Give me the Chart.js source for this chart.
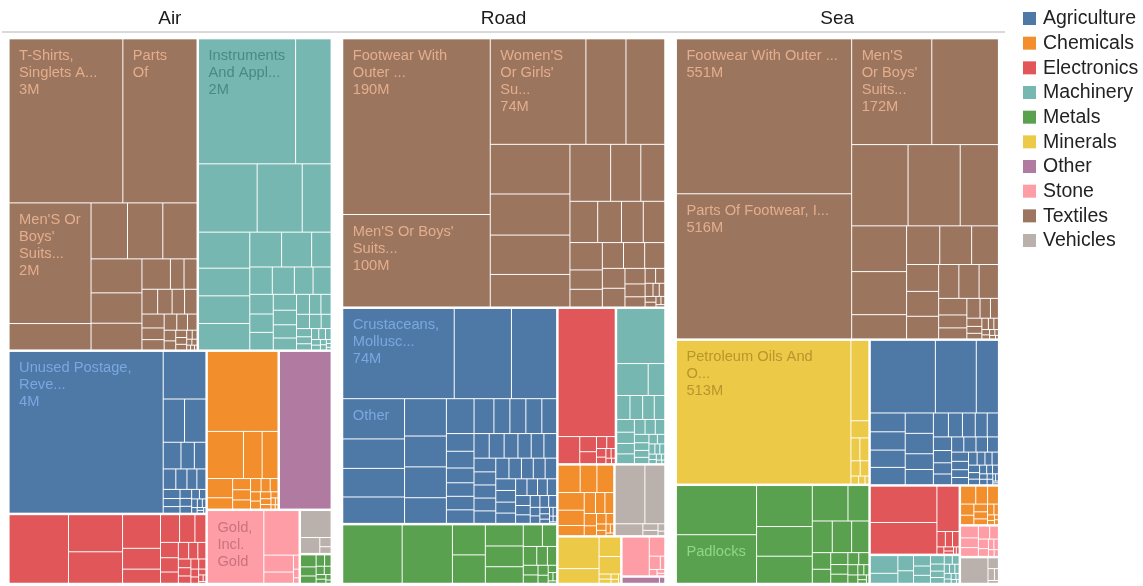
<!DOCTYPE html>
<html>
<head>
<meta charset="utf-8">
<title>Trade value by mode of transport</title>
<script src="https://cdn.jsdelivr.net/npm/chart.js@4.4.1/dist/chart.umd.min.js"></script>
<style>
  html, body { margin: 0; padding: 0; background: #fff; }
  #wrap { width: 1143px; height: 586px; }
</style>
</head>
<body>
<div id="wrap"><canvas id="treemapChart" width="1143" height="586"></canvas></div>
<script>
// treemap of traded value per product, grouped by sector, one panel per transport mode
// all values are in millions

const modes = ['Air', 'Road', 'Sea'];
const categories = ['Agriculture', 'Chemicals', 'Electronics', 'Machinery', 'Metals', 'Minerals', 'Other', 'Stone', 'Textiles', 'Vehicles'];
const categoryColors = ['#4e79a7', '#f28e2b', '#e15759', '#76b7b2', '#59a14f', '#edc948', '#b07aa1', '#ff9da7', '#9c755f', '#bab0ac'];
const labelColors = ['#7aa7e0', '#fdbb6e', '#ff9193', '#4c8884', '#8fd880', '#b7962c', '#e0aad0', '#c8737d', '#e3ae8c', '#827a76'];

// Air
const airAgriculture = [4.05, 0.33, 0.15, 0.15, 0.077, 0.058, 0.05, 0.042, 0.037, 0.033, 0.03, 0.025, 0.022, 0.018, 0.017, 0.015, 0.013, 0.012, 0.01, 0.008, 0.007, 0.005, 0.005, 0.003, 0.003, 0.002];
const airChemicals = [0.93, 0.28, 0.145, 0.123, 0.08, 0.047, 0.033, 0.03, 0.027, 0.023, 0.02, 0.017, 0.015, 0.013, 0.012, 0.01, 0.008, 0.007, 0.005, 0.003, 0.003, 0.002];
const airElectronics = [0.67, 0.33, 0.28, 0.21, 0.13, 0.088, 0.087, 0.07, 0.05, 0.045, 0.042, 0.033, 0.028, 0.025, 0.022, 0.018, 0.017, 0.015, 0.013, 0.012, 0.01, 0.008, 0.007, 0.005, 0.003, 0.002];
const airMachinery = [1.97, 0.72, 0.65, 0.5, 0.32, 0.3, 0.23, 0.23, 0.22, 0.18, 0.17, 0.11, 0.1, 0.098, 0.083, 0.08, 0.075, 0.07, 0.067, 0.06, 0.055, 0.05, 0.045, 0.042, 0.037, 0.033, 0.03, 0.027, 0.023, 0.02, 0.017, 0.015, 0.013, 0.012, 0.01, 0.008, 0.007, 0.005, 0.005, 0.003, 0.003, 0.002];
const airMetals = [0.033, 0.025, 0.02, 0.017, 0.013, 0.012, 0.01, 0.008, 0.007, 0.005, 0.003];
const airMinerals = [];
const airOther = [1.35];
const airStone = [0.68, 0.26, 0.083, 0.055, 0.013, 0.008, 0.005];
const airTextiles = [3.02, 1.97, 1.6, 0.35, 0.33, 0.32, 0.31, 0.28, 0.25, 0.22, 0.14, 0.067, 0.064, 0.063, 0.058, 0.05, 0.05, 0.05, 0.042, 0.037, 0.033, 0.028, 0.025, 0.02, 0.017, 0.013, 0.012, 0.01, 0.008, 0.007, 0.005, 0.005, 0.003, 0.003, 0.002];
const airVehicles = [0.143, 0.053, 0.018, 0.013];

// Road
const roadAgriculture = [74, 38, 30, 18.3, 13.4, 13, 12, 11.5, 9.5, 9.5, 7.9, 7.1, 5.1, 4.1, 4.1, 4.1, 3.8, 3.6, 3.4, 3.0, 2.75, 2.75, 2.75, 2.75, 2.7, 2.5, 2.4, 2.3, 2.3, 2.2, 2.1, 2.1, 2.06, 2.0, 2.0, 1.9, 1.8, 1.8, 1.75, 1.7, 1.7, 1.6, 1.5, 1.4, 1.3, 1.2, 1.15, 1.07, 1.0, 0.92, 0.84, 0.76, 0.69, 0.61, 0.53, 0.46, 0.38, 0.3, 0.23, 0.23, 0.15, 0.15, 0.08];
const roadChemicals = [4.6, 3.5, 3.5, 3.5, 3.05, 2.0, 1.8, 1.5, 1.4, 1.15, 0.92, 0.76, 0.61, 0.46, 0.38, 0.3, 0.23, 0.15];
const roadElectronics = [55, 4.4, 1.9, 1.5, 0.92, 0.76, 0.61, 0.46, 0.38, 0.3, 0.23, 0.15];
const roadMachinery = [20, 7.6, 4.0, 2.4, 2.3, 2.1, 1.9, 1.7, 1.5, 1.4, 1.3, 1.2, 1.15, 1.07, 0.92, 0.84, 0.76, 0.69, 0.61, 0.53, 0.46, 0.38, 0.38, 0.3, 0.23, 0.23, 0.15, 0.15, 0.08];
const roadMetals = [26, 22, 7.4, 7.0, 6.0, 5.9, 4.7, 3.1, 2.3, 1.9, 1.5, 1.3, 1.07, 0.92, 0.76, 0.61, 0.46, 0.3, 0.23, 0.15];
const roadMinerals = [9.9, 4.6, 3.2, 2.9, 0.46, 0.38, 0.3, 0.23, 0.15];
const roadOther = [2.1, 0.3];
const roadStone = [8.2, 2.3, 1.15, 0.46, 0.38, 0.23, 0.15];
const roadTextiles = [190, 100, 74, 31, 30, 29, 24, 23, 19, 17, 12.6, 10, 8.4, 7.2, 6.6, 6.5, 6.5, 4.6, 4.2, 4.0, 4.0, 3.8, 3.3, 3.1, 2.3, 1.9, 1.5, 1.15, 1.0, 0.76, 0.6, 0.53, 0.46, 0.38, 0.3, 0.23, 0.15];
const roadVehicles = [13.3, 8.9, 2.5, 0.76, 0.61, 0.38, 0.23];

// Sea
const seaAgriculture = [97, 61, 33, 13.5, 13.1, 12.4, 12.4, 11.8, 11.8, 9.1, 8.8, 7.4, 6.9, 6.3, 5.9, 5.5, 5.1, 4.6, 4.2, 4.0, 3.8, 3.8, 3.6, 3.4, 3.2, 2.9, 2.7, 2.5, 2.3, 2.1, 1.9, 1.7, 1.7, 1.5, 1.26, 1.26, 1.05, 1.05, 0.84, 0.84, 0.63, 0.63, 0.42, 0.42, 0.21, 0.21];
const seaChemicals = [5.9, 4.6, 4.2, 3.2, 2.7, 2.3, 2.1, 1.7, 1.5, 1.05, 0.84, 0.63, 0.42, 0.42];
const seaElectronics = [50.5, 44, 21, 2.7, 2.3, 2.1, 1.05, 0.84, 0.63, 0.42, 0.42];
const seaMachinery = [10.5, 5.9, 5.1, 4.2, 3.8, 3.4, 2.9, 2.5, 2.1, 1.9, 1.7, 1.5, 1.26, 1.05, 1.05, 0.84, 0.84, 0.63, 0.63, 0.42, 0.42, 0.21];
const seaMetals = [81, 80, 47, 34, 31, 26, 15.2, 13, 12.6, 11.2, 6.3, 5.3, 4.2, 3.4, 3.2, 2.7, 2.5, 2.1, 1.7, 1.26, 1.05, 0.84, 0.63, 0.42];
const seaMinerals = [513, 29.5, 6.3, 4.2, 4.2, 2.9, 2.7, 1.26, 1.05, 0.63];
const seaOther = [];
const seaStone = [4.6, 3.8, 3.4, 3.2, 2.5, 2.1, 1.7, 1.26, 1.05, 0.84, 0.63];
const seaTextiles = [551, 516, 172, 143, 93, 86, 63, 51, 48, 27, 26, 25, 21, 17.5, 16.2, 14.7, 13.9, 13.9, 13.3, 9.5, 7.4, 6.3, 5.3, 4.2, 3.2, 2.5, 2.1, 1.7, 1.5, 1.26, 1.05, 0.84, 0.63, 0.63, 0.42, 0.42, 0.21];
const seaVehicles = [15.4, 2.5, 1.7, 1.05, 0.63];

// names shown on the big cells: [mode, sector, index in its array, text, show value]
const itemLabels = [
    ['Air', 'Textiles', 0, 'T-Shirts,\nSinglets A...', true],
    ['Air', 'Textiles', 1, 'Parts\nOf', false],
    ['Air', 'Textiles', 2, "Men'S Or\nBoys'\nSuits...", true],
    ['Air', 'Machinery', 0, 'Instruments\nAnd Appl...', true],
    ['Air', 'Agriculture', 0, 'Unused Postage,\nReve...', true],
    ['Air', 'Stone', 0, 'Gold,\nIncl.\nGold', false],
    ['Road', 'Textiles', 0, 'Footwear With\nOuter ...', true],
    ['Road', 'Textiles', 1, "Men'S Or Boys'\nSuits...", true],
    ['Road', 'Textiles', 2, "Women'S\nOr Girls'\nSu...", true],
    ['Road', 'Agriculture', 0, 'Crustaceans,\nMollusc...', true],
    ['Road', 'Agriculture', 3, 'Other', false],
    ['Sea', 'Textiles', 0, 'Footwear With Outer ...', true],
    ['Sea', 'Textiles', 1, 'Parts Of Footwear, I...', true],
    ['Sea', 'Textiles', 2, "Men'S\nOr Boys'\nSuits...", true],
    ['Sea', 'Minerals', 0, 'Petroleum Oils And\nO...', true],
    ['Sea', 'Metals', 1, 'Padlocks', false]
];

const valuesByMode = {
    Air: [airAgriculture, airChemicals, airElectronics, airMachinery, airMetals, airMinerals, airOther, airStone, airTextiles, airVehicles],
    Road: [roadAgriculture, roadChemicals, roadElectronics, roadMachinery, roadMetals, roadMinerals, roadOther, roadStone, roadTextiles, roadVehicles],
    Sea: [seaAgriculture, seaChemicals, seaElectronics, seaMachinery, seaMetals, seaMinerals, seaOther, seaStone, seaTextiles, seaVehicles]
};

const FONT = '"Liberation Sans", Arial, sans-serif';
Chart.defaults.font.family = FONT;

const PHI = (1 + Math.sqrt(5)) / 2;

// squarified layout (golden ratio target), values must be sorted high to low
function squarify(values, x0, y0, x1, y1) {
    const rects = [];
    const n = values.length;
    let value = values.reduce((s, v) => s + v, 0);
    let i0 = 0, i1 = 0;
    while (i0 < n) {
        const dx = x1 - x0, dy = y1 - y0;
        if (dx <= 0 || dy <= 0) break;
        let sumValue = values[i1++];
        let minValue = sumValue, maxValue = sumValue;
        const alpha = Math.max(dy / dx, dx / dy) / (value * PHI);
        let beta = sumValue * sumValue * alpha;
        let minRatio = Math.max(maxValue / beta, beta / minValue);
        for (; i1 < n; ++i1) {
            const v = values[i1];
            sumValue += v;
            if (v < minValue) minValue = v;
            if (v > maxValue) maxValue = v;
            beta = sumValue * sumValue * alpha;
            const newRatio = Math.max(maxValue / beta, beta / minValue);
            if (newRatio > minRatio) { sumValue -= v; break; }
            minRatio = newRatio;
        }
        if (dx < dy) {
            // row along the top
            const yEnd = i1 < n ? y0 + dy * sumValue / value : y1;
            let x = x0;
            for (let i = i0; i < i1; i++) {
                const xEnd = i === i1 - 1 ? x1 : x + dx * values[i] / sumValue;
                rects.push({ i, x0: x, y0, x1: xEnd, y1: yEnd });
                x = xEnd;
            }
            y0 = yEnd;
        } else {
            // column along the left
            const xEnd = i1 < n ? x0 + dx * sumValue / value : x1;
            let y = y0;
            for (let i = i0; i < i1; i++) {
                const yEnd = i === i1 - 1 ? y1 : y + dy * values[i] / sumValue;
                rects.push({ i, x0, y0: y, x1: xEnd, y1: yEnd });
                y = yEnd;
            }
            x0 = xEnd;
        }
        value -= sumValue;
        i0 = i1;
    }
    return rects;
}

function findLabel(mode, cat, k) {
    return itemLabels.find(l => l[0] === mode && l[1] === cat && l[2] === k);
}

const treemapPlugin = {
    id: 'treemapPanels',
    afterDatasetsDraw(chart) {
        const { ctx } = chart;
        const xScale = chart.scales.x;
        const yScale = chart.scales.y;

        modes.forEach((mode, m) => {
            const left = xScale.getPixelForValue(m - 0.484);
            const right = xScale.getPixelForValue(m + 0.4855);
            const top = yScale.getPixelForValue(1);
            const bottom = yScale.getPixelForValue(0);

            const groups = valuesByMode[mode]
                .map((vals, c) => ({
                    c,
                    items: vals.map((v, k) => ({ v, k })).sort((a, b) => b.v - a.v)
                }))
                .filter(g => g.items.length);
            groups.forEach(g => { g.total = g.items.reduce((s, it) => s + it.v, 0); });
            groups.sort((a, b) => b.total - a.total);

            const groupRects = squarify(groups.map(g => g.total), left, top, right, bottom);
            groupRects.forEach(gr => {
                const g = groups[gr.i];
                const cx0 = gr.x0 + 0.75, cy0 = gr.y0 + 0.75;
                const cx1 = gr.x1 - 0.75, cy1 = gr.y1 - 0.75;
                const itemRects = squarify(g.items.map(it => it.v), cx0, cy0, cx1, cy1);

                ctx.save();
                ctx.fillStyle = categoryColors[g.c];
                itemRects.forEach(r => {
                    const w = r.x1 - r.x0 - 1, h = r.y1 - r.y0 - 1;
                    if (w > 0 && h > 0) ctx.fillRect(r.x0 + 0.5, r.y0 + 0.5, w, h);
                });

                // labels on the large cells
                itemRects.forEach(r => {
                    const item = g.items[r.i];
                    const lab = findLabel(mode, categories[g.c], item.k);
                    if (!lab) return;
                    const lines = lab[3].split('\n');
                    if (lab[4]) lines.push(Math.round(item.v) + 'M');
                    ctx.save();
                    ctx.beginPath();
                    ctx.rect(r.x0 + 0.5, r.y0 + 0.5, r.x1 - r.x0 - 1, r.y1 - r.y0 - 1);
                    ctx.clip();
                    ctx.fillStyle = labelColors[g.c];
                    ctx.font = '14.67px ' + FONT;
                    ctx.textAlign = 'left';
                    ctx.textBaseline = 'alphabetic';
                    lines.forEach((line, j) => {
                        ctx.fillText(line, r.x0 + 10, r.y0 + 21 + j * 17);
                    });
                    ctx.restore();
                });
                ctx.restore();
            });
        });

        // sector legend on the right
        ctx.save();
        ctx.font = '19.5px ' + FONT;
        ctx.textAlign = 'left';
        ctx.textBaseline = 'middle';
        categories.forEach((cat, c) => {
            const y = 12 + c * 24.67;
            ctx.fillStyle = categoryColors[c];
            ctx.fillRect(1023, y, 13, 13);
            ctx.fillStyle = '#222';
            ctx.fillText(cat, 1043, y + 7);
        });
        ctx.restore();
    }
};

const ctx = document.getElementById('treemapChart').getContext('2d');
new Chart(ctx, {
    type: 'bar',
    data: {
        labels: modes,
        datasets: []
    },
    options: {
        responsive: false,
        animation: false,
        devicePixelRatio: 1,
        layout: { padding: { left: 3, right: 139, top: 5, bottom: 2 } },
        scales: {
            x: {
                position: 'top',
                offset: true,
                grid: { display: false, drawTicks: false },
                border: { display: true, color: '#d9d9d9', width: 2 },
                ticks: { color: '#1b1b1b', padding: 2, font: { size: 19 } }
            },
            y: { min: 0, max: 1.0115, display: false }
        },
        plugins: {
            legend: { display: false },
            tooltip: { enabled: false }
        }
    },
    plugins: [treemapPlugin]
});
</script>
</body>
</html>
